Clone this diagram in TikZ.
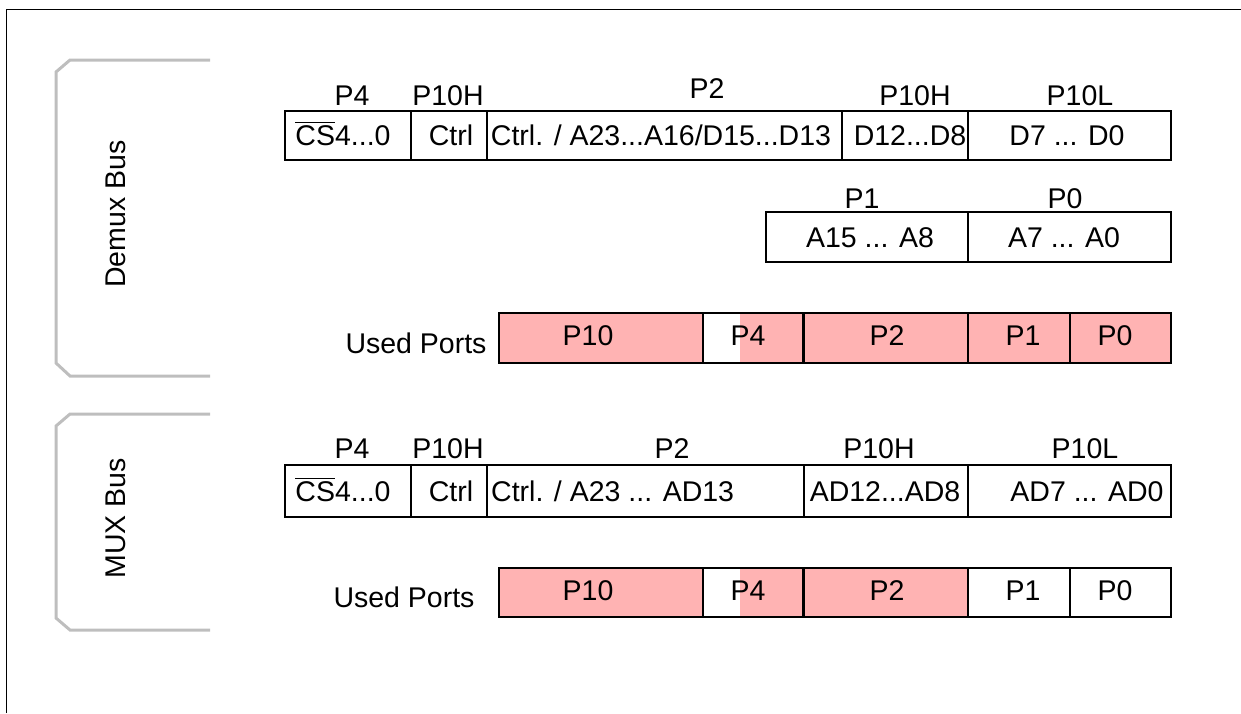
\documentclass[tikz,border=0pt]{standalone}
\usepackage{fontspec}
\setmainfont{Liberation Sans}
\definecolor{pinkc}{RGB}{255,179,179}
\definecolor{grayc}{RGB}{190,190,190}
\newsavebox{\csbox}
\newcommand{\csbar}{\sbox{\csbox}{CS}\rlap{\rule[22pt]{\wd\csbox}{1.5pt}}\usebox{\csbox}}
\begin{document}
\begin{tikzpicture}[x=1pt,y=-1pt,
  font=\fontsize{28.5}{33}\selectfont,
  cell/.style={draw, line width=1.3pt, inner sep=0pt, anchor=center},
  usedcell/.style={cell, fill=pinkc},
  txt/.style={anchor=base, inner sep=0pt},
  txtw/.style={anchor=base west, inner sep=0pt},
  side/.style={anchor=center, inner sep=0pt, rotate=90},
  brk/.style={draw=grayc, line width=3pt, line join=miter},
  frame/.style={draw=black, line width=1pt},
  thickdiv/.style={draw=black, line width=2.6pt}]
\useasboundingbox (0,0) rectangle (1241,713);
% outer frame
\coordinate (fbl) at (6,713);
\coordinate (ftl) at (6,9);
\coordinate (ftr) at (1241,9);
\draw[frame] (fbl) -- (ftl) -- (ftr);
% brackets
\draw[brk] (210,60) -- (70,60) -- (56,72) -- (56,363) -- (70,376) -- (210,376);
\draw[brk] (210,414) -- (70,414) -- (56,426) -- (56,618) -- (70,630) -- (210,630);
\node[side] (demuxlbl) at (116,214) {Demux Bus};
\node[side] (muxlbl) at (116,518.5) {MUX Bus};

% ===== Demux row 1 =====
\node[cell, minimum width=126pt, minimum height=49pt] (dA) at (348,135.5) {};
\node[cell, minimum width=76pt, minimum height=49pt] (dB) at (449,135.5) {};
\node[cell, minimum width=355pt, minimum height=49pt] (dC) at (664.5,135.5) {};
\node[cell, minimum width=126pt, minimum height=49pt] (dD) at (905,135.5) {};
\node[cell, minimum width=203pt, minimum height=49pt] (dE) at (1069.5,135.5) {};
\node[txt] (tdA) at (343,145) {\csbar4...0};
\node[txt] (tdB) at (451,145) {Ctrl};
\node[txt] (tdC) at (661,145) {Ctrl. / A23...A16/D15...D13};
\node[txt] (tdD) at (910,145) {D12...D8};
\node[txt] (tdE) at (1067,145) {D7 ... D0};
\node[txt] (ldA) at (352,105) {P4};
\node[txt] (ldB) at (448,105) {P10H};
\node[txt] (ldC) at (707,98) {P2};
\node[txt] (ldD) at (915,105) {P10H};
\node[txt] (ldE) at (1080,105) {P10L};

% ===== Demux row 2 =====
\node[cell, minimum width=202pt, minimum height=50pt] (dF) at (867,237) {};
\node[cell, minimum width=203pt, minimum height=50pt] (dG) at (1069.5,237) {};
\node[txt] (tdF) at (870,247) {A15 ... A8};
\node[txt] (tdG) at (1064,247) {A7 ... A0};
\node[txt] (ldF) at (862,208) {P1};
\node[txt] (ldG) at (1065,208) {P0};

% ===== Demux used ports =====
\node[txt] (dused) at (416,353) {Used Ports};
\node[usedcell, minimum width=204pt, minimum height=50pt] (uA) at (601,338) {};
\fill[pinkc] (740,313) rectangle (803,363);
\node[cell, minimum width=100pt, minimum height=50pt] (uB) at (753,338) {};
\node[usedcell, minimum width=165pt, minimum height=50pt] (uC) at (885.5,338) {};
\node[usedcell, minimum width=102pt, minimum height=50pt] (uD) at (1019,338) {};
\node[usedcell, minimum width=101pt, minimum height=50pt] (uE) at (1120.5,338) {};
\draw[thickdiv] (uB.north east) -- (uB.south east);
\node[txt] (tuA) at (588,345) {P10};
\node[txt] (tuB) at (748,345) {P4};
\node[txt] (tuC) at (887,345) {P2};
\node[txt] (tuD) at (1023,345) {P1};
\node[txt] (tuE) at (1115,345) {P0};

% ===== MUX row 1 =====
\node[cell, minimum width=126pt, minimum height=52pt] (mA) at (348,491) {};
\node[cell, minimum width=76pt, minimum height=52pt] (mB) at (449,491) {};
\node[cell, minimum width=317pt, minimum height=52pt] (mC) at (645.5,491) {};
\node[cell, minimum width=164pt, minimum height=52pt] (mD) at (886,491) {};
\node[cell, minimum width=203pt, minimum height=52pt] (mE) at (1069.5,491) {};
\node[txt] (tmA) at (343,501) {\csbar4...0};
\node[txt] (tmB) at (451,501) {Ctrl};
\node[txtw] (tmC) at (491,501) {Ctrl. / A23 ... AD13};
\node[txt] (tmD) at (885,501) {AD12...AD8};
\node[txt] (tmE) at (1087,501) {AD7 ... AD0};
\node[txt] (lmA) at (352,458) {P4};
\node[txt] (lmB) at (448,458) {P10H};
\node[txt] (lmC) at (672,458) {P2};
\node[txt] (lmD) at (879,458) {P10H};
\node[txt] (lmE) at (1085,458) {P10L};

% ===== MUX used ports =====
\node[txt] (mused) at (404,607) {Used Ports};
\node[usedcell, minimum width=204pt, minimum height=49pt] (vA) at (601,592.5) {};
\fill[pinkc] (740,568) rectangle (803,617);
\node[cell, minimum width=100pt, minimum height=49pt] (vB) at (753,592.5) {};
\node[usedcell, minimum width=165pt, minimum height=49pt] (vC) at (885.5,592.5) {};
\node[cell, minimum width=102pt, minimum height=49pt] (vD) at (1019,592.5) {};
\node[cell, minimum width=101pt, minimum height=49pt] (vE) at (1120.5,592.5) {};
\draw[thickdiv] (vB.north east) -- (vB.south east);
\node[txt] (tvA) at (588,600) {P10};
\node[txt] (tvB) at (748,600) {P4};
\node[txt] (tvC) at (887,600) {P2};
\node[txt] (tvD) at (1023,600) {P1};
\node[txt] (tvE) at (1115,600) {P0};
\end{tikzpicture}
\end{document}
